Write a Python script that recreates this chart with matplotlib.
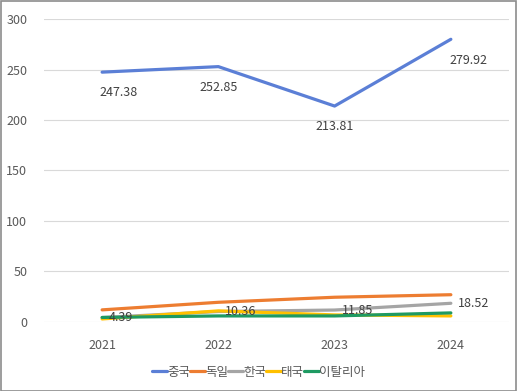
import numpy as np
import matplotlib.pyplot as plt
from matplotlib.patches import Rectangle

plt.rcParams['font.family'] = ['Noto Sans CJK KR', 'DejaVu Sans']

years = ['2021', '2022', '2023', '2024']
china = [247.38, 252.85, 213.81, 279.92]
germany = [12.0, 19.5, 24.5, 27.0]
korea = [4.39, 10.36, 11.85, 18.52]
thailand = [3.0, 11.0, 7.0, 6.0]
italy = [4.5, 6.0, 6.0, 9.0]

names = ['중국', '독일', '한국', '태국', '이탈리아']
colors = ['#5B7FD6', '#ED7D31', '#A5A5A5', '#FFC000', '#1E9A62']

fig = plt.figure(figsize=(5.17, 3.91), dpi=100)
ax = fig.add_axes([0.0851, 0.1765, 0.8994, 0.7749])

x = np.arange(len(years))
series = [china, germany, korea, thailand, italy]
for s, c, n in zip(series, colors, names):
    ax.plot(x, s, color=c, lw=2.3, label=n, solid_capstyle='round')

# 중국 라벨 (아래)
dx_china = [12, 0, 0, 13]
for i, v in enumerate(china):
    ax.annotate('%.2f' % v, (x[i], v), xytext=(dx_china[i], -15), textcoords='offset points',
                ha='center', va='center', fontsize=9, color='#404040')
# 한국 라벨 (오른쪽)
for i, v in enumerate(korea):
    ax.annotate('%.2f' % v, (x[i], v), xytext=(5, 0), textcoords='offset points',
                ha='left', va='center', fontsize=9, color='#404040')

ax.set_xlim(-0.5, 3.5)
ax.set_ylim(0, 300)
ax.set_yticks(range(0, 301, 50))
ax.set_xticks(x)
ax.set_xticklabels(years)
ax.grid(axis='y', color='#D9D9D9', lw=0.8)
ax.set_axisbelow(True)
for sp in ax.spines.values():
    sp.set_visible(False)
ax.tick_params(length=0, colors='#595959', labelsize=9)
ax.tick_params(axis='y', pad=12)
ax.tick_params(axis='x', pad=12)

ax.legend(loc='center', bbox_to_anchor=(0.5, 0.048), bbox_transform=fig.transFigure,
          ncol=5, frameon=False, fontsize=9, handlelength=1.2, handletextpad=0.0,
          columnspacing=0.0, labelcolor='#595959')

fig.patches.append(Rectangle((0.001, 0.001), 0.997, 0.997, transform=fig.transFigure,
                             fill=False, edgecolor='#8C8C8C', lw=1.2))

plt.savefig('out.png', dpi=100)
